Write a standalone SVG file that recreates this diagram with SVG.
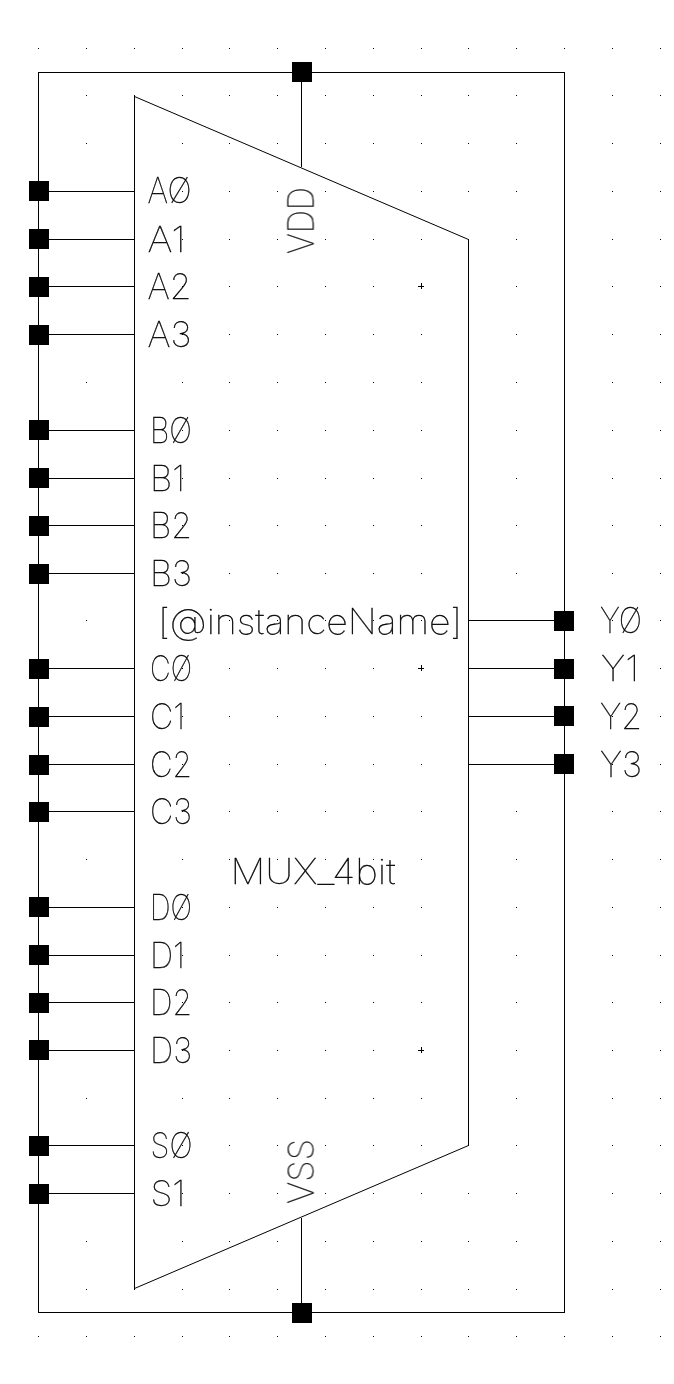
<svg xmlns="http://www.w3.org/2000/svg" xmlns:xlink="http://www.w3.org/1999/xlink" width="674" height="1384" viewBox="0 0 674 1384">
<style>
.l{fill:none;stroke:#000;stroke-width:1;shape-rendering:crispEdges}
.s{fill:none;stroke:#000;stroke-width:1;shape-rendering:crispEdges}
.a{fill:none;stroke:#000;stroke-width:1}
.p{fill:#000;shape-rendering:crispEdges}
text{font-family:"Inter","Liberation Sans",sans-serif;font-weight:100;font-size:35px;fill:#000;stroke:#000;stroke-width:.35;filter:url(#gray)}
</style>
<defs>
<filter id="gray" filterUnits="userSpaceOnUse" x="-1500" y="-1500" width="3000" height="3000" color-interpolation-filters="sRGB"><feOffset dx="0" dy="0"/></filter>
<path id="row" class="l" d="M38 .5h1M86 .5h1M134 .5h1M182 .5h1M229 .5h1M277 .5h1M325 .5h1M373 .5h1M421 .5h1M468 .5h1M516 .5h1M564 .5h1M612 .5h1M660 .5h1"/>
<rect id="sq" class="p" x="-10" y="-10" width="20" height="20"/>
<path id="plus" class="l" d="M-3 .5h6M.5 -3v6"/>
</defs>
<rect width="674" height="1384" fill="#fff"/>
<g id="grid">
<use href="#row" y="48"/><use href="#row" y="95"/><use href="#row" y="143"/><use href="#row" y="191"/><use href="#row" y="239"/><use href="#row" y="286"/><use href="#row" y="334"/><use href="#row" y="382"/><use href="#row" y="430"/><use href="#row" y="478"/><use href="#row" y="525"/><use href="#row" y="573"/><use href="#row" y="620"/><use href="#row" y="668"/><use href="#row" y="716"/><use href="#row" y="764"/><use href="#row" y="811"/><use href="#row" y="859"/><use href="#row" y="907"/><use href="#row" y="955"/><use href="#row" y="1002"/><use href="#row" y="1050"/><use href="#row" y="1098"/><use href="#row" y="1145"/><use href="#row" y="1193"/><use href="#row" y="1241"/><use href="#row" y="1289"/><use href="#row" y="1336"/>
</g>
<g id="connectors">
<path class="s" d="M38.5 191V72.5H564.5V1312.5H38.5V191"/>
<path class="s" d="M301.5 72V167M301.5 1312V1218"/>
<path class="s" d="M39 191.5H134M39 239.5H134M39 286.5H134M39 334.5H134M39 430.5H134M39 478.5H134M39 525.5H134M39 573.5H134M39 668.5H134M39 716.5H134M39 764.5H134M39 811.5H134M39 907.5H134M39 955.5H134M39 1002.5H134M39 1050.5H134M39 1145.5H134M39 1193.5H134"/>
<path class="s" d="M468 620.5H564M468 668.5H564M468 716.5H564M468 764.5H564"/>
</g>
<g id="symbol">
<path class="s" d="M134.5 96V1289"/><path class="s" d="M468.5 239V1146"/>
<path class="a" d="M134.5 96.5L468.5 239.5M134.5 1288.5L468.5 1145.5"/>
<use href="#plus" x="421" y="286"/><use href="#plus" x="421" y="668"/><use href="#plus" x="421" y="1050"/>
<text x="158" y="634" textLength="304" lengthAdjust="spacingAndGlyphs">[@instanceName]</text>
<text x="230.5" y="884" textLength="165" lengthAdjust="spacingAndGlyphs">MUX_4bit</text>
</g>
<g id="pin-VDD"><use href="#sq" x="302" y="72"/><text transform="translate(313.5 254) rotate(-90)" textLength="67" lengthAdjust="spacingAndGlyphs">VDD</text></g>
<g id="pin-VSS"><use href="#sq" x="302" y="1313"/><text transform="translate(313.5 1204) rotate(-90)" textLength="65" lengthAdjust="spacingAndGlyphs">VSS</text></g>
<g id="pin-A0"><use href="#sq" x="39" y="191"/><text x="147.5" y="203" textLength="44" lengthAdjust="spacingAndGlyphs">AØ</text></g>
<g id="pin-A1"><use href="#sq" x="39" y="239"/><text x="147.5" y="252" textLength="38" lengthAdjust="spacingAndGlyphs">A1</text></g>
<g id="pin-A2"><use href="#sq" x="39" y="287"/><text x="147.5" y="299" textLength="44" lengthAdjust="spacingAndGlyphs">A2</text></g>
<g id="pin-A3"><use href="#sq" x="39" y="335"/><text x="147.5" y="347" textLength="44" lengthAdjust="spacingAndGlyphs">A3</text></g>
<g id="pin-B0"><use href="#sq" x="39" y="430"/><text x="150" y="443" textLength="42" lengthAdjust="spacingAndGlyphs">BØ</text></g>
<g id="pin-B1"><use href="#sq" x="39" y="478"/><text x="150" y="491" textLength="35" lengthAdjust="spacingAndGlyphs">B1</text></g>
<g id="pin-B2"><use href="#sq" x="39" y="526"/><text x="150" y="538" textLength="42" lengthAdjust="spacingAndGlyphs">B2</text></g>
<g id="pin-B3"><use href="#sq" x="39" y="574"/><text x="150" y="586" textLength="42" lengthAdjust="spacingAndGlyphs">B3</text></g>
<g id="pin-C0"><use href="#sq" x="39" y="669"/><text x="150" y="681" textLength="42" lengthAdjust="spacingAndGlyphs">CØ</text></g>
<g id="pin-C1"><use href="#sq" x="39" y="717"/><text x="150" y="729" textLength="35" lengthAdjust="spacingAndGlyphs">C1</text></g>
<g id="pin-C2"><use href="#sq" x="39" y="765"/><text x="150" y="777" textLength="42" lengthAdjust="spacingAndGlyphs">C2</text></g>
<g id="pin-C3"><use href="#sq" x="39" y="812"/><text x="150" y="824" textLength="42" lengthAdjust="spacingAndGlyphs">C3</text></g>
<g id="pin-D0"><use href="#sq" x="39" y="907"/><text x="150" y="920" textLength="42" lengthAdjust="spacingAndGlyphs">DØ</text></g>
<g id="pin-D1"><use href="#sq" x="39" y="955"/><text x="150" y="968" textLength="35" lengthAdjust="spacingAndGlyphs">D1</text></g>
<g id="pin-D2"><use href="#sq" x="39" y="1003"/><text x="150" y="1015" textLength="42" lengthAdjust="spacingAndGlyphs">D2</text></g>
<g id="pin-D3"><use href="#sq" x="39" y="1050"/><text x="150" y="1063" textLength="42" lengthAdjust="spacingAndGlyphs">D3</text></g>
<g id="pin-S0"><use href="#sq" x="39" y="1146"/><text x="150.5" y="1158" textLength="42" lengthAdjust="spacingAndGlyphs">SØ</text></g>
<g id="pin-S1"><use href="#sq" x="39" y="1194"/><text x="150.5" y="1206" textLength="35" lengthAdjust="spacingAndGlyphs">S1</text></g>
<g id="pin-Y0"><use href="#sq" x="564" y="621"/><text x="600" y="633" textLength="42" lengthAdjust="spacingAndGlyphs">YØ</text></g>
<g id="pin-Y1"><use href="#sq" x="564" y="669"/><text x="601" y="681" textLength="38" lengthAdjust="spacingAndGlyphs">Y1</text></g>
<g id="pin-Y2"><use href="#sq" x="564" y="716"/><text x="600" y="729" textLength="42" lengthAdjust="spacingAndGlyphs">Y2</text></g>
<g id="pin-Y3"><use href="#sq" x="564" y="764"/><text x="600" y="777" textLength="42" lengthAdjust="spacingAndGlyphs">Y3</text></g>
</svg>
